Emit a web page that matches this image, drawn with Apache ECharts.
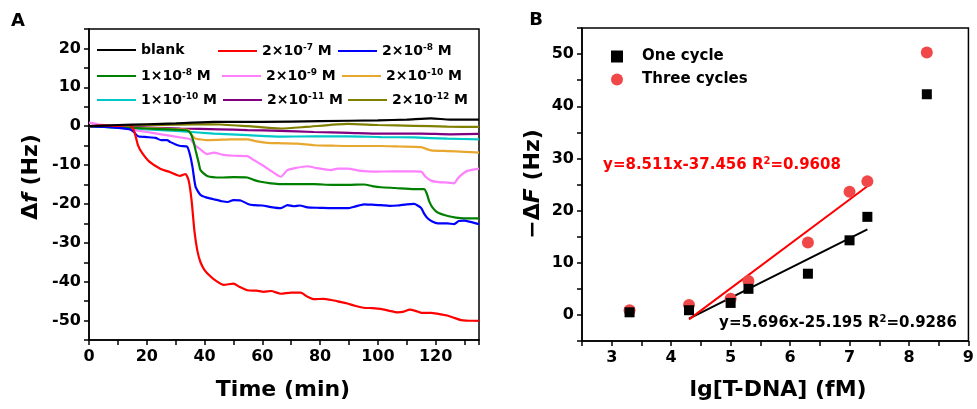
<!DOCTYPE html>
<html>
<head>
<meta charset="utf-8">
<script src="https://cdn.jsdelivr.net/npm/echarts@6/dist/echarts.min.js"></script>
<style>
  html, body { margin: 0; padding: 0; background: #fff; }
  #chart { width: 977px; height: 409px; }
</style>
</head>
<body>
<div id="chart"></div>
<script>
// ---- Panel A: frequency shift vs. time, [minutes, Hz] ----
const seriesNamesA = ['blank', '2×10^-7 M', '2×10^-8 M', '1×10^-8 M', '2×10^-9 M',
                      '2×10^-10 M', '1×10^-10 M', '2×10^-11 M', '2×10^-12 M'];
const seriesColorsA = ['#000000', '#FF0000', '#0000FF', '#008000', '#FF80FF',
                       '#E8A82F', '#00C8C8', '#800080', '#808000'];

const blank = [[0,0],[10,0.3],[20,0.5],[30,0.7],[43.2,1.1],[60,1.1],[80,1.3],[100,1.5],[110,1.7],[118.4,2],[125,1.7],[135,1.7]];
const c2e7 = [[0,0],[5,0.2],[10,0.1],[14,0.3],[15.5,-1],[17,-5],[18.5,-7],[21,-9.2],[24.8,-11],[28,-11.8],[31.5,-12.8],[33.4,-12.3],[34.5,-14],[35.5,-19],[36.5,-27],[37.5,-32],[38.6,-35],[40,-37],[42,-38.6],[44,-39.8],[46.6,-40.8],[50,-40.5],[52,-41.3],[54.8,-42.2],[58,-42.3],[60.5,-42.6],[63,-42.4],[66.4,-43.1],[70,-42.8],[73.3,-42.8],[75.5,-43.8],[78,-44.5],[81,-44.4],[84,-44.7],[87,-45.2],[89.5,-45.6],[92,-46.2],[95,-46.7],[98,-46.8],[101,-47],[104,-47.5],[106.8,-47.9],[109,-47.7],[111,-47.2],[113,-47.5],[115,-48],[118.4,-48],[121,-48.3],[124,-48.7],[126,-49.2],[128.8,-49.9],[131,-50],[135,-50.1]];
const c2e8 = [[0,0],[8,-0.3],[14,-0.8],[15.5,-1.5],[17,-2.6],[20,-2.8],[23,-3],[25,-3.6],[27,-3.6],[28.2,-4.1],[30,-4.7],[31.7,-5.1],[34,-5.3],[35,-7.5],[35.8,-10.4],[36.9,-15.6],[38.6,-17.7],[40.5,-18.3],[43.2,-18.8],[46,-19.3],[48,-19.5],[50,-19],[52.5,-19.1],[55,-20],[57,-20.3],[60,-20.4],[63,-20.8],[66.4,-21.1],[68.7,-20.3],[71,-20.6],[73,-20.4],[75.6,-20.9],[80,-21],[83.7,-21.1],[89.5,-21.1],[92,-20.7],[95.2,-20.1],[98,-20.2],[101,-20.3],[104,-20.5],[106.8,-20.4],[110,-20.1],[112.5,-20],[114.9,-21],[116,-22.5],[117.2,-23.7],[119,-24.6],[120.7,-25],[124,-25],[126.4,-25.2],[128,-24.4],[129.8,-24.3],[132,-24.6],[135,-25.2]];
const c1e8 = [[0,0],[10,-0.3],[20,-0.6],[30,-0.9],[34,-1.1],[35.2,-1.9],[36.2,-4],[36.9,-6.2],[38,-9.5],[38.6,-11.3],[40.9,-12.8],[45.6,-13.2],[50,-13.1],[54.8,-13.2],[57,-13.8],[59.4,-14.3],[63,-14.7],[66.4,-14.9],[72,-14.9],[77.9,-14.9],[84,-15.1],[89.5,-15.1],[95.2,-15],[98,-15.4],[101,-15.7],[106,-15.9],[112.5,-16.2],[116,-16.2],[117,-17.5],[117.8,-19.4],[119,-21],[120.7,-22.2],[124.2,-23.1],[127,-23.5],[129.8,-23.7],[135,-23.7]];
const c2e9 = [[0,0.9],[3,0.5],[6,0.2],[10,-0.3],[15,-0.9],[20,-1.5],[25,-2.1],[31.7,-2.9],[35.2,-3.4],[36.5,-4.8],[38.6,-6],[40.9,-7.2],[43.2,-6.8],[46.6,-7.4],[50,-7.6],[54.8,-7.7],[57,-8.7],[59.5,-9.8],[61.8,-10.9],[64,-12],[66.4,-13],[68.7,-11.3],[72,-10.7],[75.6,-10.3],[79,-10.8],[83.7,-11.3],[86,-10.9],[89.5,-10.9],[94,-11.5],[98.7,-11.7],[105,-11.6],[112.5,-11.6],[115,-11.7],[116.5,-13],[118.4,-14],[121,-14.4],[124.2,-14.5],[126.4,-14.7],[127.5,-13.6],[128.8,-12.6],[131,-11.5],[135,-10.9]];
const c2e10 = [[0,0],[10,-0.2],[20,-0.5],[30,-0.8],[34.5,-1],[35.2,-1.9],[36.9,-3.2],[38.5,-3.4],[40.9,-3.6],[45,-3.5],[49,-3.4],[54.8,-3.4],[58,-3.9],[61.8,-4.3],[67,-4.4],[72.1,-4.5],[77.9,-4.9],[84,-5],[89.5,-5.1],[95,-5.1],[101,-5.1],[107,-5.2],[112.5,-5.3],[115,-5.4],[118.4,-6.2],[124.2,-6.4],[130,-6.6],[135,-6.8]];
const c1e10 = [[0,0],[10,-0.4],[20,-0.8],[30,-1.2],[43.2,-1.9],[55,-2.3],[66.4,-2.7],[78,-2.6],[89.5,-2.6],[101,-2.8],[112.5,-2.9],[124,-3.2],[135,-3.4]];
const c2e11 = [[0,0],[15,-0.2],[31.7,-0.6],[45,-0.8],[54.8,-1],[66,-1.2],[77.9,-1.5],[90,-1.7],[101,-1.9],[115,-1.9],[125,-2.1],[135,-2]];
const c2e12 = [[0,0],[10,0.1],[20,0.3],[30,0.4],[43.2,0.5],[55,0],[66.4,-0.6],[75,-0.2],[89.5,0.6],[100,0.3],[112.5,0.1],[124,-0.1],[135,-0.2]];
const seriesDataA = [blank, c2e7, c2e8, c1e8, c2e9, c2e10, c1e10, c2e11, c2e12];

// legend placement: [left, row-centre]
const legendSlotsA = [[97,50],[218,50],[338,50],[97,75],[222,75],[342,75],[97,99],[223,99],[348,99]];

// ---- Panel B: calibration, x = lg[T-DNA] (fM), y = -ΔF (Hz) ----
const lgConc = [3.3, 4.3, 5.0, 5.3, 6.3, 7.0, 7.3, 8.3];
const oneCycle = [0.5, 0.9, 2.3, 5.0, 7.9, 14.3, 18.8, 42.3];
const threeCycles = [0.9, 1.9, 3.1, 6.5, 13.9, 23.6, 25.6, 50.3];
const fitRange = [4.3, 7.3];
const fitOne = { k: 5.696, b: -25.195, r2: '0.9286' };
const fitThree = { k: 8.511, b: -37.456, r2: '0.9608' };

const FONT = 'DejaVu Sans';
const RED_B = '#F04848';

function supName(name) {
  const m = name.match(/^(.*?)\^(-?\d+)(.*)$/);
  if (!m) return '{n|' + name + '}';
  return '{n|' + m[1] + '}{s|' + m[2] + '}{n|' + m[3] + '}';
}

const axisCommon = {
  axisLine: { show: true, onZero: false, lineStyle: { color: '#000', width: 1.5 } },
  axisTick: { show: true, inside: false, length: 5, lineStyle: { color: '#000', width: 1.5 } },
  splitLine: { show: false },
};
const labelCommon = { color: '#000', fontFamily: FONT, fontWeight: 'bold', fontSize: 16 };

const series = [];
seriesDataA.forEach((d, i) => {
  series.push({
    name: seriesNamesA[i], type: 'line', xAxisIndex: 0, yAxisIndex: 0,
    data: d, symbol: 'none', smooth: 0.2,
    lineStyle: { color: seriesColorsA[i], width: 2.2 }, itemStyle: { color: seriesColorsA[i] },
    z: 10 - i,
  });
});
const fitLine = (f) => fitRange.map(x => [x, +(f.k * x + f.b).toFixed(3)]);
series.push({
  name: 'fitOne', type: 'line', xAxisIndex: 1, yAxisIndex: 1, data: fitLine(fitOne),
  symbol: 'none', lineStyle: { color: '#000', width: 2 }, z: 3,
});
series.push({
  name: 'fitThree', type: 'line', xAxisIndex: 1, yAxisIndex: 1, data: fitLine(fitThree),
  symbol: 'none', lineStyle: { color: '#FF0000', width: 2 }, z: 3,
});
series.push({
  name: 'One cycle', type: 'scatter', xAxisIndex: 1, yAxisIndex: 1,
  data: lgConc.map((x, i) => [x, oneCycle[i]]),
  symbol: 'rect', symbolSize: 10, itemStyle: { color: '#000', opacity: 1 }, z: 5,
});
series.push({
  name: 'Three cycles', type: 'scatter', xAxisIndex: 1, yAxisIndex: 1,
  data: lgConc.map((x, i) => [x, threeCycles[i]]),
  symbol: 'circle', symbolSize: 12, itemStyle: { color: RED_B, opacity: 1 }, z: 4,
});

const legends = seriesNamesA.map((n, i) => ({
  data: [{ name: n, icon: 'rect' }], left: legendSlotsA[i][0], top: legendSlotsA[i][1] - 7, padding: 0,
  itemWidth: 39, itemHeight: 2, itemGap: 0, selectedMode: false,
  formatter: supName,
  textStyle: {
    rich: {
      n: { fontFamily: FONT, fontWeight: 'bold', fontSize: 14, color: '#000' },
      s: { fontFamily: FONT, fontWeight: 'bold', fontSize: 9, color: '#000', padding: [0, 0, 7, 0] },
    },
  },
}));
legends.push({
  data: ['One cycle', 'Three cycles'], orient: 'vertical', left: 611, top: 49, padding: 0,
  itemWidth: 12, itemHeight: 12, itemGap: 8, selectedMode: false,
  textStyle: { fontFamily: FONT, fontWeight: 'bold', fontSize: 15, color: '#000', padding: [0, 0, 0, 14] },
});

const sup = { fontFamily: FONT, fontWeight: 'bold', fontSize: 10, padding: [0, 0, 8, 0] };
function eqText(f) {
  return '{a|y=' + f.k.toFixed(3) + 'x' + (f.b < 0 ? '-' : '+') + Math.abs(f.b).toFixed(3) + ' R}{s|2}{a|=' + f.r2 + '}';
}

const option = {
  backgroundColor: '#fff',
  animation: false,
  grid: [
    { left: 89, top: 29, width: 390, height: 311, show: true, borderColor: '#000', borderWidth: 1.5 },
    { left: 582, top: 28, width: 391, height: 313, show: true, borderColor: '#000', borderWidth: 1.5 },
  ],
  xAxis: [
    Object.assign({}, axisCommon, {
      type: 'value', gridIndex: 0, min: 0, max: 135, interval: 10,
      axisLabel: Object.assign({}, labelCommon, { margin: 9, formatter: v => (v % 20 === 0 ? String(v) : '') }),
    }),
    Object.assign({}, axisCommon, {
      type: 'value', gridIndex: 1, min: 2.5, max: 9, interval: 0.5,
      axisLabel: Object.assign({}, labelCommon, { margin: 9, formatter: v => (Math.abs(v - Math.round(v)) < 1e-6 ? String(Math.round(v)) : '') }),
    }),
  ],
  yAxis: [
    Object.assign({}, axisCommon, {
      type: 'value', gridIndex: 0, min: -55, max: 25, interval: 5,
      axisLabel: Object.assign({}, labelCommon, { margin: 8, formatter: v => (v % 10 === 0 ? String(v) : '') }),
    }),
    Object.assign({}, axisCommon, {
      type: 'value', gridIndex: 1, min: -5, max: 55, interval: 5,
      axisLabel: Object.assign({}, labelCommon, { margin: 8, formatter: v => (v % 10 === 0 ? String(v) : '') }),
    }),
  ],
  legend: legends,
  series: series,
  graphic: [
    { type: 'text', x: 18, y: 21, style: { text: 'A', fontFamily: FONT, fontWeight: 'bold', fontSize: 18, fill: '#000', align: 'center', verticalAlign: 'middle' } },
    { type: 'text', x: 536, y: 20, style: { text: 'B', fontFamily: FONT, fontWeight: 'bold', fontSize: 18, fill: '#000', align: 'center', verticalAlign: 'middle' } },
    { type: 'text', x: 283, y: 390, style: { text: 'Time (min)', fontFamily: FONT, fontWeight: 'bold', fontSize: 22, fill: '#000', align: 'center', verticalAlign: 'middle' } },
    { type: 'text', x: 778, y: 390, style: { text: 'lg[T-DNA] (fM)', fontFamily: FONT, fontWeight: 'bold', fontSize: 22, fill: '#000', align: 'center', verticalAlign: 'middle' } },
    { type: 'text', x: 31, y: 177, rotation: Math.PI / 2,
      style: { text: '{d|Δ}{i|f}{d| (Hz)}', align: 'center', verticalAlign: 'middle',
        rich: { d: { fontFamily: FONT, fontWeight: 'bold', fontSize: 22, fill: '#000' },
                i: { fontFamily: FONT, fontWeight: 'bold', fontStyle: 'italic', fontSize: 22, fill: '#000' } } } },
    { type: 'text', x: 533, y: 184, rotation: Math.PI / 2,
      style: { text: '{d|−Δ}{i|F}{d| (Hz)}', align: 'center', verticalAlign: 'middle',
        rich: { d: { fontFamily: FONT, fontWeight: 'bold', fontSize: 22, fill: '#000' },
                i: { fontFamily: FONT, fontWeight: 'bold', fontStyle: 'italic', fontSize: 22, fill: '#000' } } } },
    { type: 'text', x: 722, y: 165, z: 20,
      style: { text: eqText(fitThree), align: 'center', verticalAlign: 'middle',
        rich: { a: { fontFamily: FONT, fontWeight: 'bold', fontSize: 15, fill: '#FF0000' }, s: Object.assign({ fill: '#FF0000' }, sup) } } },
    { type: 'text', x: 838, y: 323, z: 20,
      style: { text: eqText(fitOne), align: 'center', verticalAlign: 'middle',
        rich: { a: { fontFamily: FONT, fontWeight: 'bold', fontSize: 15, fill: '#000' }, s: Object.assign({ fill: '#000' }, sup) } } },
  ],
};

const chart = echarts.init(document.getElementById('chart'), null, { renderer: 'canvas' });
chart.setOption(option);
</script>
</body>
</html>
